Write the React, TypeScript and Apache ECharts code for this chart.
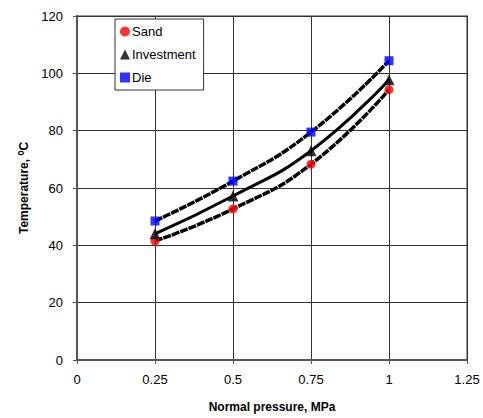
import React, { useEffect, useRef } from "react";
import * as echarts from "echarts";

const pressure = [0.25, 0.5, 0.75, 1.0];
const sand = [41.5, 52.7, 68.3, 94.3];
const investment = [44.0, 57.2, 73.0, 97.8];
const die = [48.5, 62.4, 79.5, 104.4];
const xTicks = [0, 0.25, 0.5, 0.75, 1, 1.25];

const pairs = (ys: number[]) => pressure.map((x, i) => [x, ys[i]]);

export default function App() {
  const ref = useRef<HTMLDivElement>(null);
  useEffect(() => {
    if (!ref.current) return;
    const chart = echarts.init(ref.current, undefined, { renderer: "svg" });
    const font = "Arial, 'Liberation Sans', sans-serif";
    chart.setOption({
      animation: false,
      textStyle: { fontFamily: font },
      grid: {
        left: 77,
        right: 16,
        top: 16,
        bottom: 56,
        show: true,
        borderColor: "#999",
        borderWidth: 2,
      },
      legend: {
        data: ["Sand", "Investment", "Die"],
        orient: "vertical",
        left: 115,
        top: 19,
        itemWidth: 10,
        itemHeight: 10,
        itemGap: 10,
        padding: [6, 8, 6, 5],
        borderColor: "#333",
        borderWidth: 1,
        backgroundColor: "#fff",
        textStyle: { fontSize: 13, color: "#000", fontFamily: font, padding: [0, 0, 0, -3] },
      },
      xAxis: {
        type: "value",
        min: 0,
        max: 1.25,
        interval: 0.25,
        name: "Normal pressure, MPa",
        nameLocation: "middle",
        nameGap: 41,
        nameTextStyle: { fontWeight: "bold", fontSize: 12, color: "#000", fontFamily: font },
        axisLine: { show: true, lineStyle: { color: "#555", width: 2 } },
        axisTick: { show: true, inside: false, length: 4, lineStyle: { color: "#555" } },
        axisLabel: {
          fontSize: 13,
          color: "#000",
          margin: 13,
          formatter: (v: number) => (xTicks.includes(v) ? String(v) : ""),
        },
        splitLine: { show: true, lineStyle: { color: "#333", width: 1 } },
      },
      yAxis: {
        type: "value",
        min: 0,
        max: 120,
        interval: 20,
        name: "{a|Temperature, }{sup|0}{a|C}",
        nameLocation: "middle",
        nameGap: 43,
        nameTextStyle: {
          rich: {
            a: { fontWeight: "bold", fontSize: 12, color: "#000", fontFamily: font },
            sup: { fontWeight: "bold", fontSize: 9, color: "#000", fontFamily: font, verticalAlign: "top", padding: [0, 0, 6, 0] },
          },
        },
        axisLine: { show: true, lineStyle: { color: "#555", width: 2 } },
        axisTick: { show: true, inside: false, length: 4, lineStyle: { color: "#555" } },
        axisLabel: { fontSize: 13, color: "#000", margin: 14 },
        splitLine: { show: true, lineStyle: { color: "#333", width: 1 } },
      },
      series: [
        {
          name: "SandFit",
          type: "line",
          smooth: true,
          symbol: "none",
          data: pairs(sand),
          lineStyle: { color: "#000", width: 3.5, type: [8, 1] },
          z: 2,
        },
        {
          name: "InvestmentFit",
          type: "line",
          smooth: true,
          symbol: "none",
          data: pairs(investment),
          lineStyle: { color: "#000", width: 3 },
          z: 2,
        },
        {
          name: "DieFit",
          type: "line",
          smooth: true,
          symbol: "none",
          data: pairs(die),
          lineStyle: { color: "#000", width: 3.5, type: [8, 1] },
          z: 2,
        },
        {
          name: "Sand",
          type: "scatter",
          symbol: "circle",
          symbolSize: 9,
          data: pairs(sand),
          itemStyle: { color: "#ff0000" },
          z: 3,
        },
        {
          name: "Investment",
          type: "scatter",
          symbol: "triangle",
          symbolSize: 11,
          data: pairs(investment),
          itemStyle: { color: "#000" },
          z: 3,
        },
        {
          name: "Die",
          type: "scatter",
          symbol: "rect",
          symbolSize: 9,
          data: pairs(die),
          itemStyle: { color: "#0000ff" },
          z: 3,
        },
      ],
    });
    return () => chart.dispose();
  }, []);
  return <div ref={ref} style={{ width: 483, height: 418, position: "absolute", left: 0, top: 0 }} />;
}
